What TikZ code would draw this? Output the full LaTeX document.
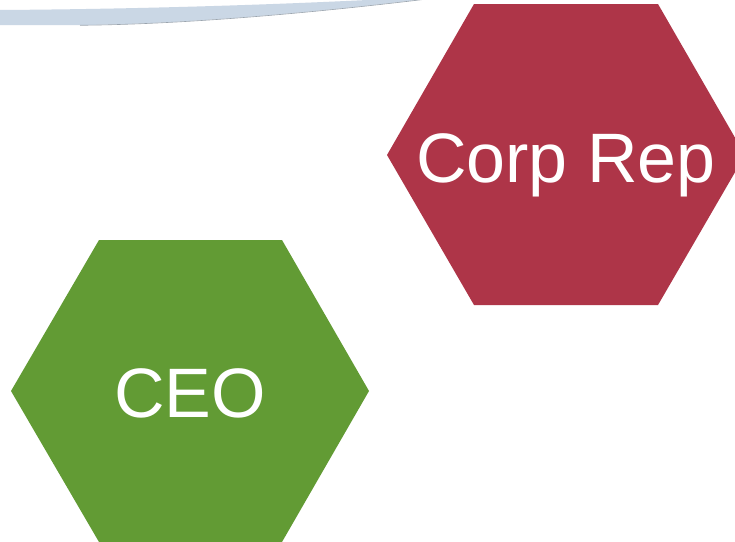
\documentclass[tikz,border=0pt]{standalone}
\usepackage{fontspec}
\setmainfont{Liberation Sans}
\definecolor{corpred}{HTML}{AE3548}
\definecolor{ceogreen}{HTML}{629B34}
\definecolor{bandblue}{HTML}{CAD7E5}
\definecolor{bandedge}{HTML}{9AA4AE}
\tikzset{
  hexlabel/.style={text=white, font=\fontsize{70}{70}\selectfont, inner sep=0pt, anchor=base},
}
\begin{document}
\begin{tikzpicture}[x=1pt,y=-1pt]
\useasboundingbox (0,0) rectangle (735,541);
\clip (0,0) rectangle (735,541);
\fill[white] (0,0) rectangle (735,541);
% top band
\fill[bandblue] (0,10) .. controls (150,9) and (300,4) .. (425,-3)
  -- (425,-1) .. controls (300,14) and (180,24) .. (80,25) -- (0,25) -- cycle;
\draw[bandedge, line width=0.6pt] (80,25.3) .. controls (180,24.3) and (300,14.3) .. (425,-0.7);
% hexagons
\fill[corpred] (387,155) -- (474,4) -- (658,4) -- (745,155) -- (658,305) -- (474,305) -- cycle;
\fill[ceogreen] (11,391) -- (99,240) -- (282,240) -- (369,391) -- (282,542) -- (99,542) -- cycle;
\node[hexlabel] (corp) at (566,182) {Corp Rep};
\node[hexlabel] (ceo) at (190,417) {CEO};
\end{tikzpicture}
\end{document}
